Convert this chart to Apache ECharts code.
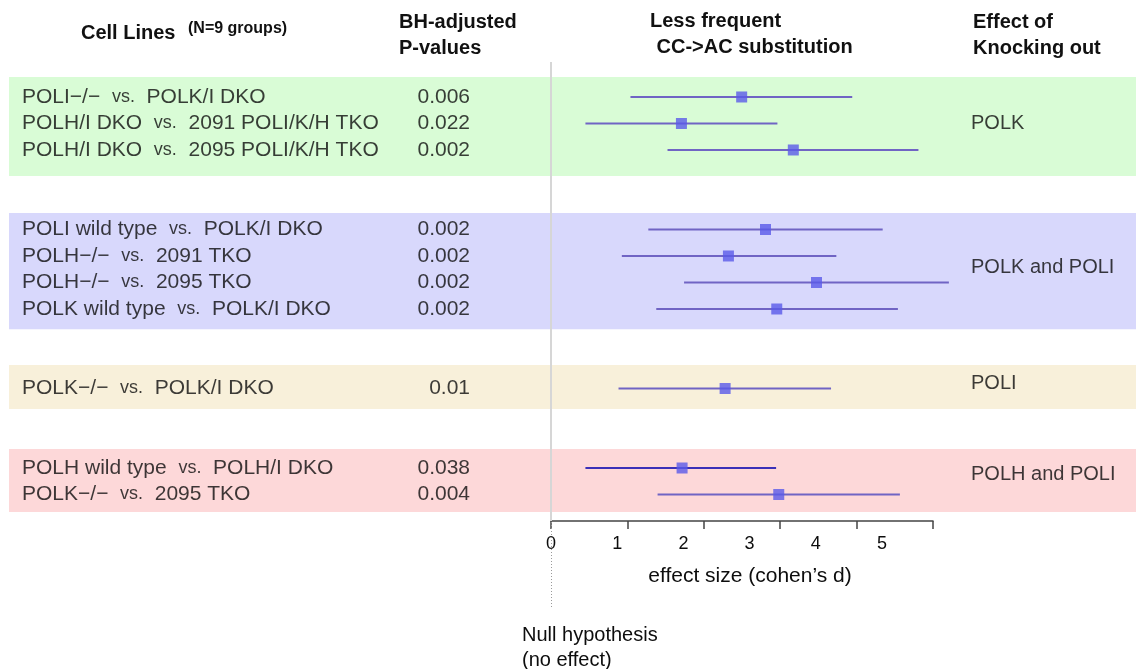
<!DOCTYPE html>
<html>
<head>
<meta charset="utf-8">
<script src="https://cdn.jsdelivr.net/npm/echarts@6/dist/echarts.min.js"></script>
<style>
  html, body { margin: 0; padding: 0; background: #ffffff; }
  #chart { width: 1136px; height: 669px; }
</style>
</head>
<body>
<div id="chart"></div>
<script>
(function () {
  // rows, top to bottom
  var leftLines = ["POLI\u2212/\u2212", "POLH/I DKO", "POLH/I DKO", "POLI wild type", "POLH\u2212/\u2212",
    "POLH\u2212/\u2212", "POLK wild type", "POLK\u2212/\u2212", "POLH wild type", "POLK\u2212/\u2212"];
  var rightLines = ["POLK/I DKO", "2091 POLI/K/H TKO", "2095 POLI/K/H TKO", "POLK/I DKO", "2091 TKO",
    "2095 TKO", "POLK/I DKO", "POLK/I DKO", "POLH/I DKO", "2095 TKO"];
  var pValues = ["0.006", "0.022", "0.002", "0.002", "0.002", "0.002", "0.002", "0.01", "0.038", "0.004"];
  var rowSlots = [0, 1, 2, 5, 6, 7, 8, 11, 14, 15];
  var effectSize = [2.88, 1.97, 3.66, 3.24, 2.68, 4.01, 3.41, 2.63, 1.98, 3.44];
  var ciLow = [1.20, 0.52, 1.76, 1.47, 1.07, 2.01, 1.59, 1.02, 0.52, 1.61];
  var ciHigh = [4.55, 3.42, 5.55, 5.01, 4.31, 6.01, 5.24, 4.23, 3.40, 5.27];

  // groups (background bands)
  var groupNames = ["POLK", "POLK and POLI", "POLI", "POLH and POLI"];
  var groupBands = [[-0.75, 2.98], [4.38, 8.76], [10.11, 11.77], [13.28, 15.66]];
  var groupLabelSlots = [1, 6.45, 10.8, 14.25];
  var bandColors = ["#d9fcd6", "#d8d8fc", "#f8f0da", "#fdd8d9"];

  var xTickLabels = ["0", "1", "2", "3", "4", "5"];

  var FONT = "'Liberation Sans', Arial, sans-serif";
  var TEXT = "#0d0d0d";
  var LINE_COLOR = "#7064c4";
  var SQUARE_COLOR = "#5a5ae8";

  var Y_MIN = -1.32;
  var Y_MAX = 16.0;
  var COL_CELL = 13;   // px offset inside the background grid
  var COL_P = 461;
  var COL_EFFECT = 962;

  var chart = echarts.init(document.getElementById("chart"), null, { renderer: "canvas" });

  var cellData = rowSlots.map(function (slot, i) {
    return { value: [COL_CELL, slot], left: leftLines[i], right: rightLines[i] };
  });
  var pData = rowSlots.map(function (slot, i) {
    return { value: [COL_P, slot], p: pValues[i] };
  });
  var effectData = groupLabelSlots.map(function (slot, i) {
    return { value: [COL_EFFECT, slot], name: groupNames[i] };
  });
  var forestData = rowSlots.map(function (slot, i) {
    return [slot, ciLow[i], ciHigh[i], effectSize[i]];
  });

  var yAxisCommon = {
    type: "value", inverse: true, min: Y_MIN, max: Y_MAX, show: false
  };

  function header(text, x, y, size) {
    return {
      type: "text", x: x, y: y,
      style: {
        text: text, font: "bold " + size + "px " + FONT, fill: "#111",
        verticalAlign: "middle", align: "left"
      }
    };
  }

  var option = {
    backgroundColor: "#ffffff",
    animation: false,
    textStyle: { fontFamily: FONT },
    grid: [
      { left: 9, right: 0, top: 62, bottom: 148 },
      { left: 551, width: 382, top: 62, bottom: 148 },
      { left: 551, width: 382, top: 521, height: 86 }
    ],
    xAxis: [
      { gridIndex: 0, type: "value", min: 0, max: 1127, show: false },
      {
        gridIndex: 1, type: "value", min: 0, max: 5.77, interval: 1, position: "bottom",
        axisLine: { show: true, onZero: false, lineStyle: { color: "#444", width: 1.5 } },
        axisTick: { show: false },
        splitLine: { show: false },
        axisLabel: {
          color: TEXT, fontSize: 18, margin: 14,
          formatter: function (v) {
            var idx = Math.round(v);
            return Math.abs(v - idx) < 1e-6 && xTickLabels[idx] != null ? xTickLabels[idx] : "";
          }
        },
        name: "effect size (cohen\u2019s d)",
        nameLocation: "middle",
        nameGap: 45,
        nameTextStyle: { color: TEXT, fontSize: 21, padding: [0, 0, 0, 16] }
      },
      {
        gridIndex: 1, type: "value", min: 0, max: 5, interval: 1, position: "bottom",
        axisLine: { show: false, onZero: false },
        axisTick: { show: true, length: 8, lineStyle: { color: "#444", width: 1.5 } },
        axisLabel: { show: false },
        splitLine: { show: false }
      },
      { gridIndex: 2, type: "value", min: 0, max: 5.77, show: false }
    ],
    yAxis: [
      Object.assign({ gridIndex: 0 }, yAxisCommon),
      Object.assign({ gridIndex: 1 }, yAxisCommon),
      { gridIndex: 2, type: "value", min: 0, max: 1, show: false }
    ],
    graphic: [
      header("Cell Lines", 81, 33, 20),
      header("(N=9 groups)", 188, 29, 16),
      header("BH-adjusted", 399, 22, 20),
      header("P-values", 399, 48, 20),
      header("Less frequent", 650, 21, 20),
      header(" CC->AC substitution", 651, 47, 20),
      header("Effect of", 973, 22, 20),
      header("Knocking out", 973, 48, 20),
      {
        type: "text", left: 522, top: 623,
        style: {
          text: "Null hypothesis\n(no effect)", font: "20px " + FONT, fill: TEXT, lineHeight: 25
        }
      }
    ],
    series: [
      {
        // background bands
        type: "scatter", xAxisIndex: 0, yAxisIndex: 0, data: [], silent: true,
        markArea: {
          silent: true,
          data: groupBands.map(function (b, i) {
            return [{ yAxis: b[0], itemStyle: { color: bandColors[i] } }, { yAxis: b[1] }];
          })
        }
      },
      {
        // cell line comparisons
        type: "scatter", xAxisIndex: 0, yAxisIndex: 0, symbolSize: 0, silent: true,
        data: cellData,
        label: {
          show: true, position: "right", distance: 0,
          formatter: function (p) {
            return "{m|" + p.data.left + "  }{v|vs.}{m|  " + p.data.right + "}";
          },
          rich: {
            m: { fontSize: 21, color: TEXT, fontFamily: FONT },
            v: { fontSize: 18, color: TEXT, fontFamily: FONT }
          }
        }
      },
      {
        // p-values, right aligned
        type: "scatter", xAxisIndex: 0, yAxisIndex: 0, symbolSize: 0, silent: true,
        data: pData,
        label: {
          show: true, position: "left", distance: 0, color: TEXT, fontSize: 21,
          formatter: function (p) { return p.data.p; }
        }
      },
      {
        // effect of knocking out
        type: "scatter", xAxisIndex: 0, yAxisIndex: 0, symbolSize: 0, silent: true,
        data: effectData,
        label: {
          show: true, position: "right", distance: 0, color: TEXT, fontSize: 20,
          formatter: function (p) { return p.data.name; }
        }
      },
      {
        // null hypothesis line and confidence intervals
        type: "custom", xAxisIndex: 1, yAxisIndex: 1, clip: false,
        data: forestData,
        renderItem: function (params, api) {
          var a = api.coord([api.value(1), api.value(0)]);
          var b = api.coord([api.value(2), api.value(0)]);
          return {
            type: "line",
            shape: { x1: a[0], y1: a[1], x2: b[0], y2: b[1] },
            style: { stroke: params.dataIndex === 8 ? "#3b30b8" : LINE_COLOR, lineWidth: 2 }
          };
        },
        markLine: {
          silent: true, symbol: "none", label: { show: false },
          lineStyle: { color: "#d6d6d6", width: 2, type: "solid" },
          data: [{ xAxis: 0 }]
        },
        z: 3
      },
      {
        type: "scatter", xAxisIndex: 1, yAxisIndex: 1,
        symbol: "rect", symbolSize: 11,
        itemStyle: { color: SQUARE_COLOR },
        data: rowSlots.map(function (slot, i) { return [effectSize[i], slot]; }),
        z: 4
      },
      {
        // dotted continuation below the axis
        type: "scatter", xAxisIndex: 3, yAxisIndex: 2, data: [], silent: true,
        markLine: {
          silent: true, symbol: "none", label: { show: false },
          lineStyle: { color: "#9a9a9a", width: 1, type: [1, 2] },
          data: [{ xAxis: 0 }]
        }
      }
    ]
  };

  chart.setOption(option);
})();
</script>
</body>
</html>
